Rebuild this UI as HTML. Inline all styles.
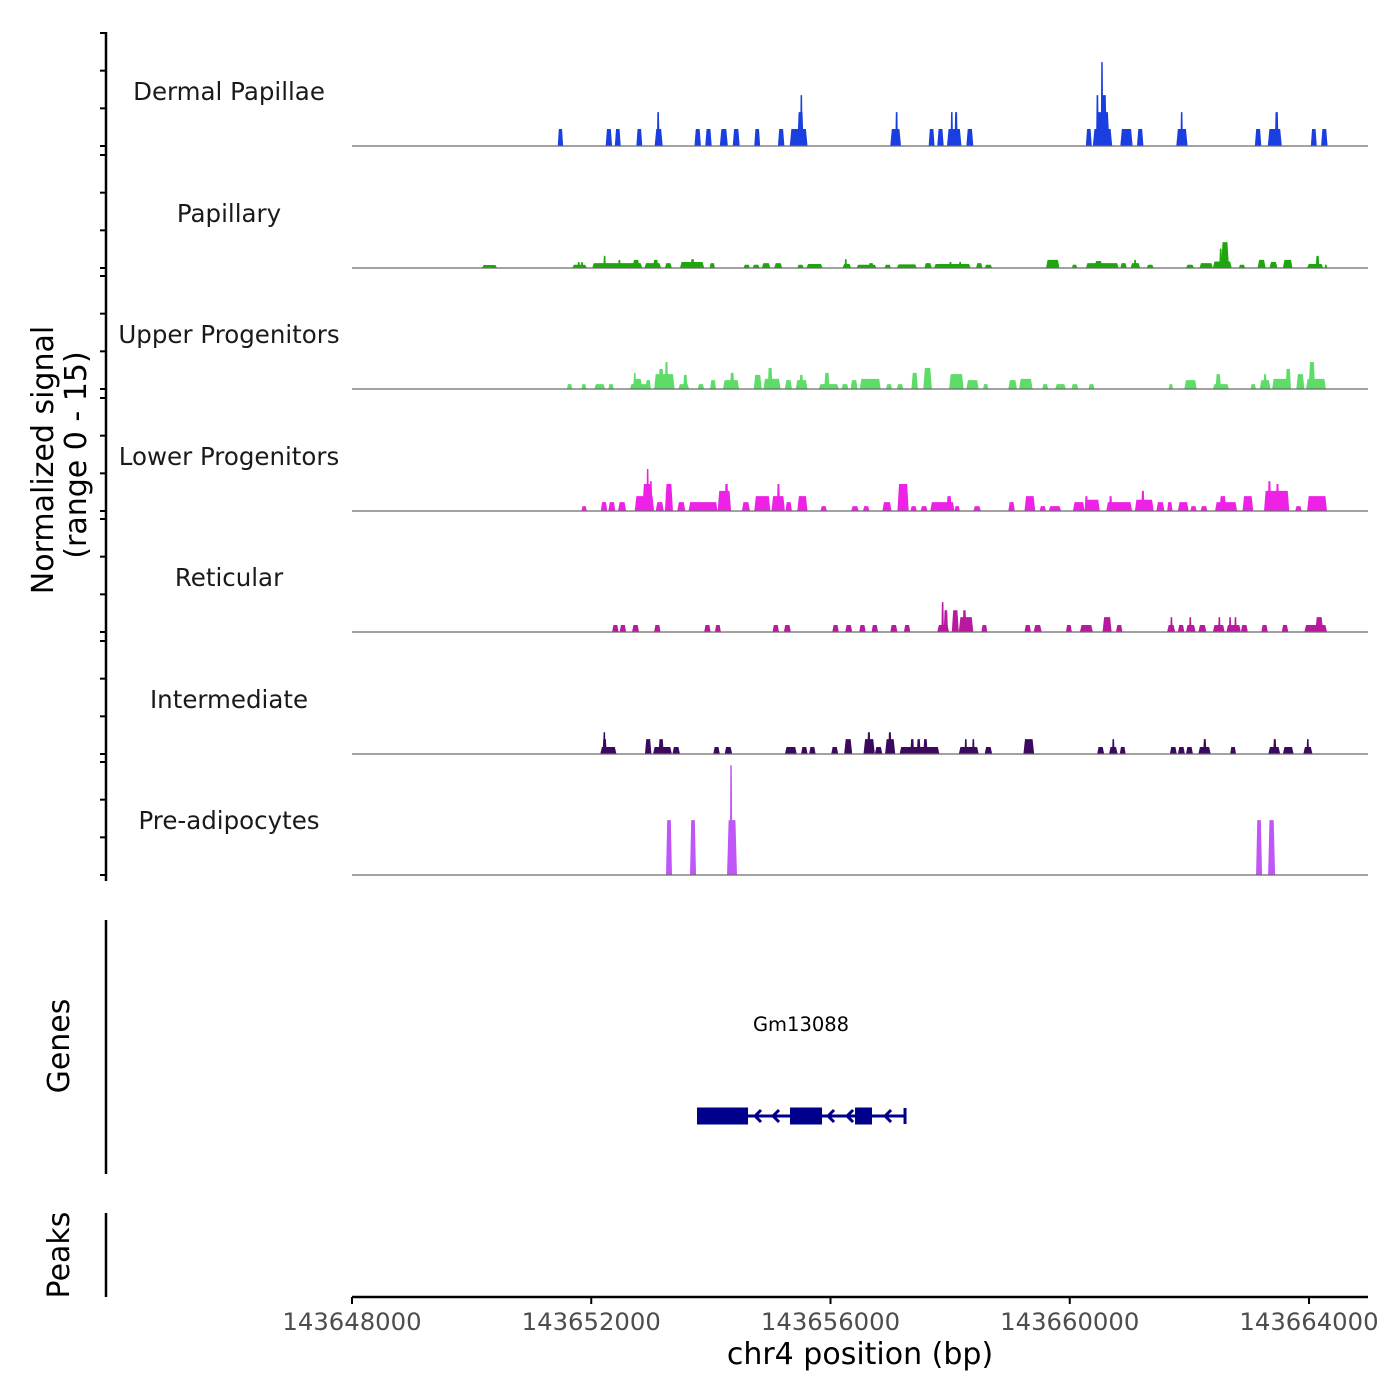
<!DOCTYPE html>
<html><head><meta charset="utf-8"><title>Coverage plot</title>
<style>
html,body{margin:0;padding:0;background:#fff;}
svg{display:block;font-family:"DejaVu Sans","Liberation Sans",sans-serif;}
</style></head>
<body>
<svg id="chart" width="1400" height="1400" viewBox="0 0 1400 1400" xmlns="http://www.w3.org/2000/svg">
<rect width="1400" height="1400" fill="#fff"/>
<g id="tracks"></g>
<g id="yaxis"></g>
<text transform="translate(53,460) rotate(-90)" text-anchor="middle" font-size="30" fill="#000">Normalized signal</text>
<text transform="translate(86,455) rotate(-90)" text-anchor="middle" font-size="30" fill="#000">(range 0 - 15)</text>
<line x1="106" y1="920" x2="106" y2="1174" stroke="#000" stroke-width="2.5"/>
<text transform="translate(69,1046) rotate(-90)" text-anchor="middle" font-size="30" fill="#000">Genes</text>
<line x1="106" y1="1213" x2="106" y2="1297" stroke="#000" stroke-width="2.5"/>
<text transform="translate(69,1255) rotate(-90)" text-anchor="middle" font-size="30" fill="#000">Peaks</text>
<g id="genes"></g>
<g id="xaxis"></g>
<text x="860" y="1364" text-anchor="middle" font-size="30" fill="#000">chr4 position (bp)</text>
</svg>
<script>
// ---- data ----
const regionStart = 143648000;
const regionEnd = 143665000;
const trackNames = ["Dermal Papillae","Papillary","Upper Progenitors","Lower Progenitors","Reticular","Intermediate","Pre-adipocytes"];
const trackColors = ["#1a3fe0","#1fa60f","#5ddc68","#ee22e6","#b8199f","#3b0a5e","#c056f8"];
const yTicks = [0,5,10,15];
const xTicks = [143648000,143652000,143656000,143660000,143664000];
const xTickLabels = ["143648000","143652000","143656000","143660000","143664000"];
const geneName = "Gm13088";
const geneStart = 143653768;
const geneEnd = 143657246;
const exonStarts = [143653768,143655323,143656410];
const exonEnds = [143654621,143655858,143656694];
const arrowPos = [143654738,143655039,143655959,143656277,143656912];

// [start, end, signal]
const dermalPapillae = [
[143651440,143651530,2.1],[143652241,143652349,2.1],[143652394,143652493,2.1],[143652754,143652853,2.1],
[143653060,143653195,2.1],[143653096,143653141,4.2],[143653726,143653834,2.1],[143653906,143654014,2.1],
[143654149,143654284,2.1],[143654365,143654482,2.1],[143654725,143654824,2.1],[143655121,143655229,2.1],
[143655319,143655616,2.1],[143655445,143655553,4.2],[143655499,143655526,6.3],
[143656999,143657179,2.1],[143657083,143657128,4.2],[143657641,143657740,2.1],[143657785,143657893,2.1],
[143657947,143658190,2.1],[143658010,143658046,4.2],[143658073,143658127,4.2],[143658271,143658388,2.1],
[143660269,143660368,2.1],[143660386,143660710,2.1],[143660440,143660665,4.2],[143660440,143660485,6.3],
[143660530,143660620,6.3],[143660530,143660548,10.4],[143660845,143661052,2.1],[143661124,143661232,2.1],
[143661781,143661970,2.1],[143661862,143661880,4.2],[143663095,143663203,2.1],[143663311,143663545,2.1],
[143663428,143663491,4.2],[143664031,143664130,2.1],[143664202,143664310,2.1]
];
const papillary = [
[143650174,143650424,0.37],[143651683,143651926,0.4],[143651773,143651809,0.75],[143651827,143651863,0.75],
[143652016,143652853,0.6],[143652205,143652241,1.5],[143652448,143652493,1.0],[143652691,143652808,1.0],
[143652889,143653168,0.6],[143653033,143653123,1.0],[143653231,143653348,0.6],[143653483,143653888,0.75],
[143653663,143653726,1.1],[143653978,143654068,0.6],[143654545,143654653,0.4],[143654698,143654815,0.4],
[143654851,143654995,0.6],[143655058,143655193,0.6],[143655445,143655553,0.4],[143655598,143655868,0.5],
[143656201,143656345,0.5],[143656237,143656273,1.1],[143656435,143656768,0.4],[143656633,143656723,0.6],
[143656903,143657011,0.4],[143657110,143657443,0.45],[143657569,143657695,0.6],[143657731,143658343,0.5],
[143657983,143658028,0.75],[143658145,143658190,0.75],[143658433,143658541,0.6],[143658577,143658703,0.4],
[143659603,143659828,1.0],[143660035,143660125,0.4],[143660269,143660818,0.6],[143660413,143660548,0.87],
[143660845,143660953,0.6],[143661016,143661178,0.6],[143661070,143661115,1.0],[143661286,143661403,0.4],
[143661943,143662078,0.4],[143662168,143662393,0.6],[143662393,143662708,0.8],[143662528,143662663,3.2],
[143662501,143662546,2.4],[143662825,143662933,0.4],[143663140,143663275,1.0],[143663338,143663473,0.75],
[143663563,143663725,1.0],[143663968,143664238,0.5],[143664112,143664175,1.5],[143664265,143664301,0.4]
];
const upperProgenitors = [
[143651593,143651683,0.6],[143651836,143651917,0.6],[143652052,143652232,0.6],[143652286,143652376,0.6],
[143652646,143652997,0.6],[143652691,143652853,1.25],[143652709,143652745,2.0],[143652907,143652997,1.1],
[143653051,143653393,1.85],[143653123,143653213,2.5],[143653231,143653285,3.35],[143653456,143653636,0.6],
[143653537,143653609,1.75],[143653780,143653888,0.6],[143653987,143654086,1.1],[143654203,143654473,1.1],
[143654320,143654392,2.0],[143654716,143654851,1.75],[143654878,143655166,1.25],[143654950,143655031,2.6],
[143655238,143655355,1.1],[143655418,143655616,1.1],[143655481,143655544,1.75],[143655805,143656138,0.6],
[143655895,143655985,2.0],[143656183,143656300,0.6],[143656336,143656453,1.1],[143656489,143656840,1.25],
[143656930,143657029,0.6],[143657110,143657218,0.6],[143657353,143657461,2.0],[143657551,143657695,2.6],
[143657983,143658226,1.85],[143658271,143658478,1.1],[143658550,143658640,0.6],[143658973,143659117,1.1],
[143659153,143659378,1.25],[143659540,143659639,0.6],[143659756,143659936,0.6],[143660026,143660143,0.6],
[143660314,143660413,0.6],[143661655,143661727,0.6],[143661916,143662123,1.1],[143662393,143662663,0.6],
[143662438,143662528,1.85],[143663023,143663113,0.6],[143663176,143663356,1.1],[143663239,143663293,1.85],
[143663383,143663698,1.25],[143663608,143663698,2.5],[143663788,143663923,1.85],[143663950,143664283,1.25],
[143663995,143664103,3.35]
];
const lowerProgenitors = [
[143651836,143651926,0.6],[143652160,143652268,1.1],[143652286,143652403,1.1],[143652448,143652583,1.1],
[143652727,143653051,1.85],[143652853,143653033,3.35],[143652925,143652961,5.2],[143652979,143653015,3.7],
[143653078,143653213,1.1],[143653231,143653366,3.35],[143653438,143653573,1.1],[143653627,143654113,1.1],
[143654113,143654338,2.5],[143654230,143654293,3.35],[143654518,143654653,1.1],[143654725,143654995,1.85],
[143655013,143655238,1.85],[143655103,143655157,3.35],[143655247,143655355,1.1],[143655445,143655616,1.85],
[143655832,143655940,0.6],[143656345,143656471,0.6],[143656543,143656651,0.6],[143656867,143657020,1.1],
[143657119,143657308,3.35],[143657335,143657443,0.6],[143657506,143657623,0.6],[143657668,143658073,1.1],
[143657938,143658028,1.85],[143658073,143658163,0.6],[143658388,143658514,0.6],[143658973,143659081,1.1],
[143659243,143659423,1.85],[143659495,143659603,0.6],[143659648,143659855,0.6],[143660053,143660251,1.1],
[143660251,143660503,1.4],[143660251,143660305,1.85],[143660611,143661043,1.1],[143660656,143660710,1.85],
[143661088,143661403,1.4],[143661196,143661250,2.5],[143661448,143661583,1.1],[143661628,143661718,1.1],
[143661808,143661988,1.1],[143662015,143662123,0.6],[143662186,143662303,0.6],[143662429,143662798,1.1],
[143662501,143662618,1.85],[143662888,143663068,1.85],[143663248,143663671,2.5],[143663311,143663365,3.7],
[143663446,143663500,3.35],[143663770,143663878,0.6],[143663968,143664301,1.85]
];
const reticular = [
[143652349,143652457,0.87],[143652475,143652583,0.87],[143652682,143652799,0.87],[143653051,143653159,0.87],
[143653888,143653996,0.87],[143654068,143654167,0.87],[143655031,143655139,0.87],[143655220,143655337,0.87],
[143656030,143656138,0.87],[143656246,143656363,0.87],[143656480,143656588,0.87],[143656687,143656795,0.87],
[143656999,143657119,0.87],[143657227,143657335,0.87],[143657785,143657983,0.87],[143657857,143657893,3.7],
[143657893,143657965,2.7],[143658028,143658145,2.7],[143658145,143658388,1.85],[143658208,143658271,2.7],
[143658523,143658622,0.87],[143659243,143659351,0.87],[143659396,143659531,0.87],[143659936,143660035,0.87],
[143660170,143660386,0.87],[143660548,143660701,1.85],[143660773,143660881,0.87],[143661628,143661763,0.87],
[143661682,143661718,1.85],[143661808,143661916,0.87],[143661943,143662105,0.87],[143661997,143662033,1.85],
[143662150,143662285,0.87],[143662393,143662591,0.87],[143662483,143662519,1.85],[143662618,143662861,0.87],
[143662663,143662699,1.85],[143662753,143662789,1.85],[143662861,143662978,0.87],[143663203,143663311,0.87],
[143663545,143663653,0.87],[143663923,143664301,0.87],[143664103,143664238,1.85]
];
const intermediate = [
[143652151,143652421,0.87],[143652187,143652259,1.85],[143652205,143652232,2.7],[143652898,143653006,1.85],
[143653033,143653348,0.87],[143653123,143653213,1.85],[143653357,143653483,0.87],[143654041,143654149,0.87],
[143654230,143654356,0.87],[143655238,143655436,0.87],[143655508,143655616,0.87],[143655643,143655751,0.87],
[143656012,143656129,0.87],[143656228,143656363,1.85],[143656552,143656741,1.85],[143656615,143656669,2.7],
[143656741,143656867,0.87],[143656912,143657083,1.85],[143656966,143657020,2.7],[143657155,143657821,0.87],
[143657335,143657398,1.85],[143657443,143657506,1.85],[143657551,143657623,1.85],[143658145,143658478,0.87],
[143658244,143658280,1.85],[143658370,143658406,1.85],[143658577,143658703,0.87],[143659225,143659405,1.85],
[143660458,143660575,0.87],[143660656,143660800,0.87],[143660710,143660746,1.85],[143660836,143660935,0.87],
[143661673,143661790,0.87],[143661808,143661925,0.87],[143661943,143662060,0.87],[143662150,143662357,0.87],
[143662231,143662285,1.85],[143662681,143662780,0.87],[143663320,143663518,0.87],[143663401,143663455,1.85],
[143663563,143663743,0.87],[143663905,143664058,0.87],[143663960,143664000,1.85]
];
const preAdipocytes = [
[143653250,143653350,6.8],[143653651,143653752,6.8],[143654270,143654437,6.8],[143654320,143654355,13.6],
[143663115,143663215,6.8],[143663316,143663433,6.8]
];
const trackData = [dermalPapillae,papillary,upperProgenitors,lowerProgenitors,reticular,intermediate,preAdipocytes];

// ---- layout ----
const NS = "http://www.w3.org/2000/svg";
const plotLeft = 352, plotRight = 1368;
const pxPerBp = (1309 - 352) / 16000;
const baselines = [146,268,389,511,632,754,875];
const unitPx = 121 / 15;
const tickPx = 113 / 15;
function x(bp){ return plotLeft + (bp - regionStart) * pxPerBp; }
function y(i, v){ return baselines[i] - v * unitPx; }
function yTick(i, v){ return baselines[i] - v * tickPx; }
function mk(tag, attrs, parent){
  const el = document.createElementNS(NS, tag);
  for (const k in attrs) el.setAttribute(k, attrs[k]);
  parent.appendChild(el);
  return el;
}

const tracksG = document.getElementById("tracks");
trackData.forEach((segs, i) => {
  const g = mk("g", {}, tracksG);
  
  
  const lbl = mk("text", {x:229, y:baselines[i]-46, "text-anchor":"middle", "font-size":"24.5", fill:"#1a1a1a"}, g);
  lbl.textContent = trackNames[i];
  
  
  segs.forEach(s => {
    let x0 = x(s[0]), x1 = x(s[1]);
    if (x1 - x0 < 2.5) { const c = (x0 + x1) / 2; x0 = c - 1.25; x1 = c + 1.25; }
    const w = x1 - x0;
    const ins = Math.min(1.6, w * 0.2);
    const yb = y(i, 0), yt = y(i, s[2]);
    const p = mk("polygon", {points: `${x0},${yb} ${x0+ins},${yt} ${x1-ins},${yt} ${x1},${yb}`, fill: trackColors[i]}, g);
    
    
  });
  const bl = mk("line", {x1:plotLeft, x2:plotRight, y1:baselines[i], y2:baselines[i], stroke:"#6a6a6a", "stroke-width":"1.2"}, g);
  
  
});

// y axis
const yax = document.getElementById("yaxis");
const yl = mk("line", {x1:106, x2:106, y1:32, y2:881, stroke:"#000", "stroke-width":"2.5"}, yax);


baselines.forEach((b, i) => {
  yTicks.forEach(t => {
    const tk = mk("line", {x1:100, x2:106, y1:yTick(i,t), y2:yTick(i,t), stroke:"#000", "stroke-width":"2"}, yax);
    
    
  });
});

// genes
const gg = document.getElementById("genes");
const gc = "#00008b", gy = 1116;
const gl = mk("line", {x1:x(geneStart), x2:x(geneEnd), y1:gy, y2:gy, stroke:gc, "stroke-width":"3"}, gg);


const ge = mk("line", {x1:x(geneEnd), x2:x(geneEnd), y1:gy-8, y2:gy+8, stroke:gc, "stroke-width":"3"}, gg);


exonStarts.forEach((s, k) => {
  const r = mk("rect", {x:x(s), y:gy-8.5, width:x(exonEnds[k])-x(s), height:17, fill:gc}, gg);
  
  
});
arrowPos.forEach(a => {
  const ax = x(a);
  const p = mk("polyline", {points:`${ax+6},${gy-6} ${ax},${gy} ${ax+6},${gy+6}`, fill:"none", stroke:gc, "stroke-width":"3"}, gg);
  
  
});
const gn = mk("text", {x:(x(geneStart)+x(geneEnd))/2, y:1031, "text-anchor":"middle", "font-size":"19.5", fill:"#000"}, gg);
gn.textContent = geneName;



// x axis
const xg = document.getElementById("xaxis");
const xl = mk("line", {x1:plotLeft, x2:plotRight, y1:1297, y2:1297, stroke:"#000", "stroke-width":"2.5"}, xg);


xTicks.forEach((t, k) => {
  const tk = mk("line", {x1:x(t), x2:x(t), y1:1297, y2:1304, stroke:"#000", "stroke-width":"2"}, xg);
  
  
  const tl = mk("text", {x:x(t), y:1330, "text-anchor":"middle", "font-size":"24.3", fill:"#4d4d4d"}, xg);
  tl.textContent = xTickLabels[k];
  
  
});
</script>
</body></html>
